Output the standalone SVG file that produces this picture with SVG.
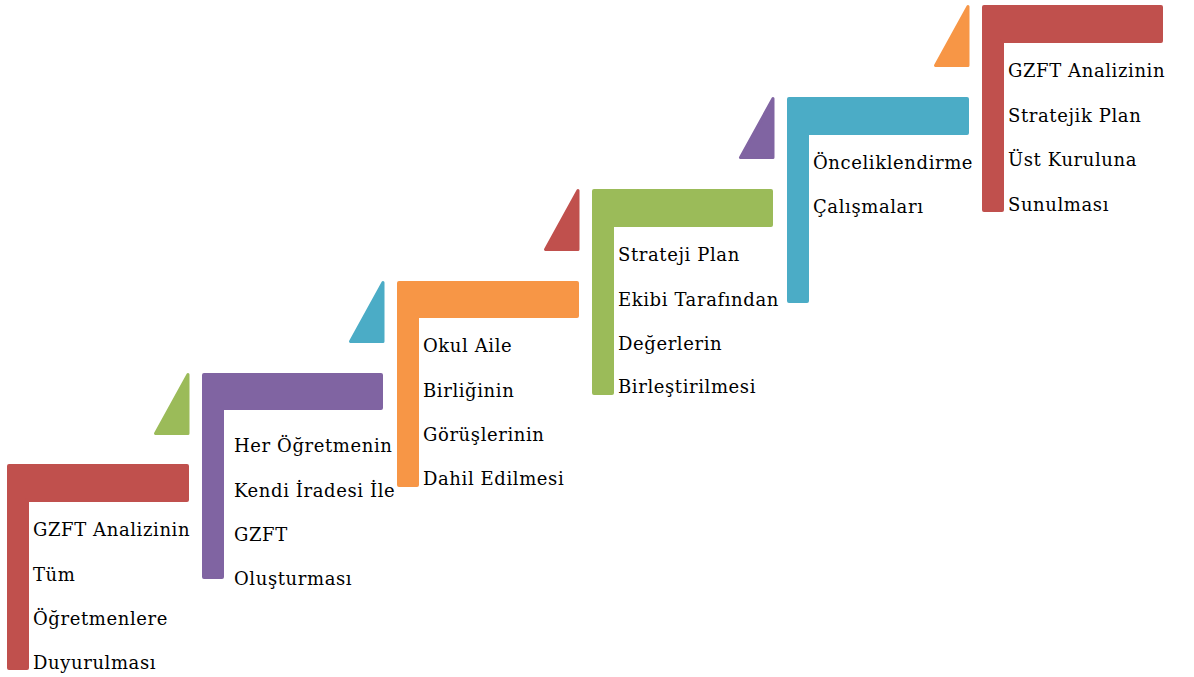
<svg xmlns="http://www.w3.org/2000/svg" width="1194" height="677" viewBox="0 0 1194 677">
<style>
.L{stroke-width:4;stroke-linejoin:round}
.T{stroke-width:3;stroke-linejoin:round}
.red{fill:#C0504D;stroke:#C0504D}
.pur{fill:#8064A2;stroke:#8064A2}
.org{fill:#F79646;stroke:#F79646}
.grn{fill:#9BBB59;stroke:#9BBB59}
.blu{fill:#4BACC6;stroke:#4BACC6}
text{font-family:"DejaVu Serif","Liberation Serif",serif;font-size:18px;fill:#000;letter-spacing:0.6px}
</style>
<rect width="1194" height="677" fill="#fff"/>
<g id="step1">
<polygon class="L red" points="9,466 187,466 187,500 27,500 27,668 9,668"/>
<text x="33" y="536">GZFT Analizinin</text>
<text x="33" y="580.5">Tüm</text>
<text x="33" y="625">Öğretmenlere</text>
<text x="33" y="669">Duyurulması</text>
</g>
<g id="step2">
<polygon class="T grn" points="188,374.5 155.5,433.5 188,433.5"/>
<polygon class="L pur" points="204,375 381,375 381,408 222,408 222,577 204,577"/>
<text x="234" y="452">Her Öğretmenin</text>
<text x="234" y="496.5">Kendi İradesi İle</text>
<text x="234" y="541">GZFT</text>
<text x="234" y="584.5">Oluşturması</text>
</g>
<g id="step3">
<polygon class="T blu" points="383,282.5 350.5,341.5 383,341.5"/>
<polygon class="L org" points="399,283 577,283 577,316 417,316 417,485 399,485"/>
<text x="423" y="352">Okul Aile</text>
<text x="423" y="397">Birliğinin</text>
<text x="423" y="441">Görüşlerinin</text>
<text x="423" y="485">Dahil Edilmesi</text>
</g>
<g id="step4">
<polygon class="T red" points="578,190.5 545.5,249.5 578,249.5"/>
<polygon class="L grn" points="594,191 771,191 771,225 612,225 612,393 594,393"/>
<text x="618" y="261">Strateji Plan</text>
<text x="618" y="305.5">Ekibi Tarafından</text>
<text x="618" y="349.5">Değerlerin</text>
<text x="618" y="393">Birleştirilmesi</text>
</g>
<g id="step5">
<polygon class="T pur" points="773,98.5 740.5,157.5 773,157.5"/>
<polygon class="L blu" points="789,99 967,99 967,133 807,133 807,301 789,301"/>
<text x="813" y="168.5">Önceliklendirme</text>
<text x="813" y="213">Çalışmaları</text>
</g>
<g id="step6">
<polygon class="T org" points="968,6.5 935.5,65.5 968,65.5"/>
<polygon class="L red" points="984,7 1161,7 1161,41 1002,41 1002,210 984,210"/>
<text x="1008" y="77">GZFT Analizinin</text>
<text x="1008" y="121.5">Stratejik Plan</text>
<text x="1008" y="166">Üst Kuruluna</text>
<text x="1008" y="210.5">Sunulması</text>
</g>
</svg>
